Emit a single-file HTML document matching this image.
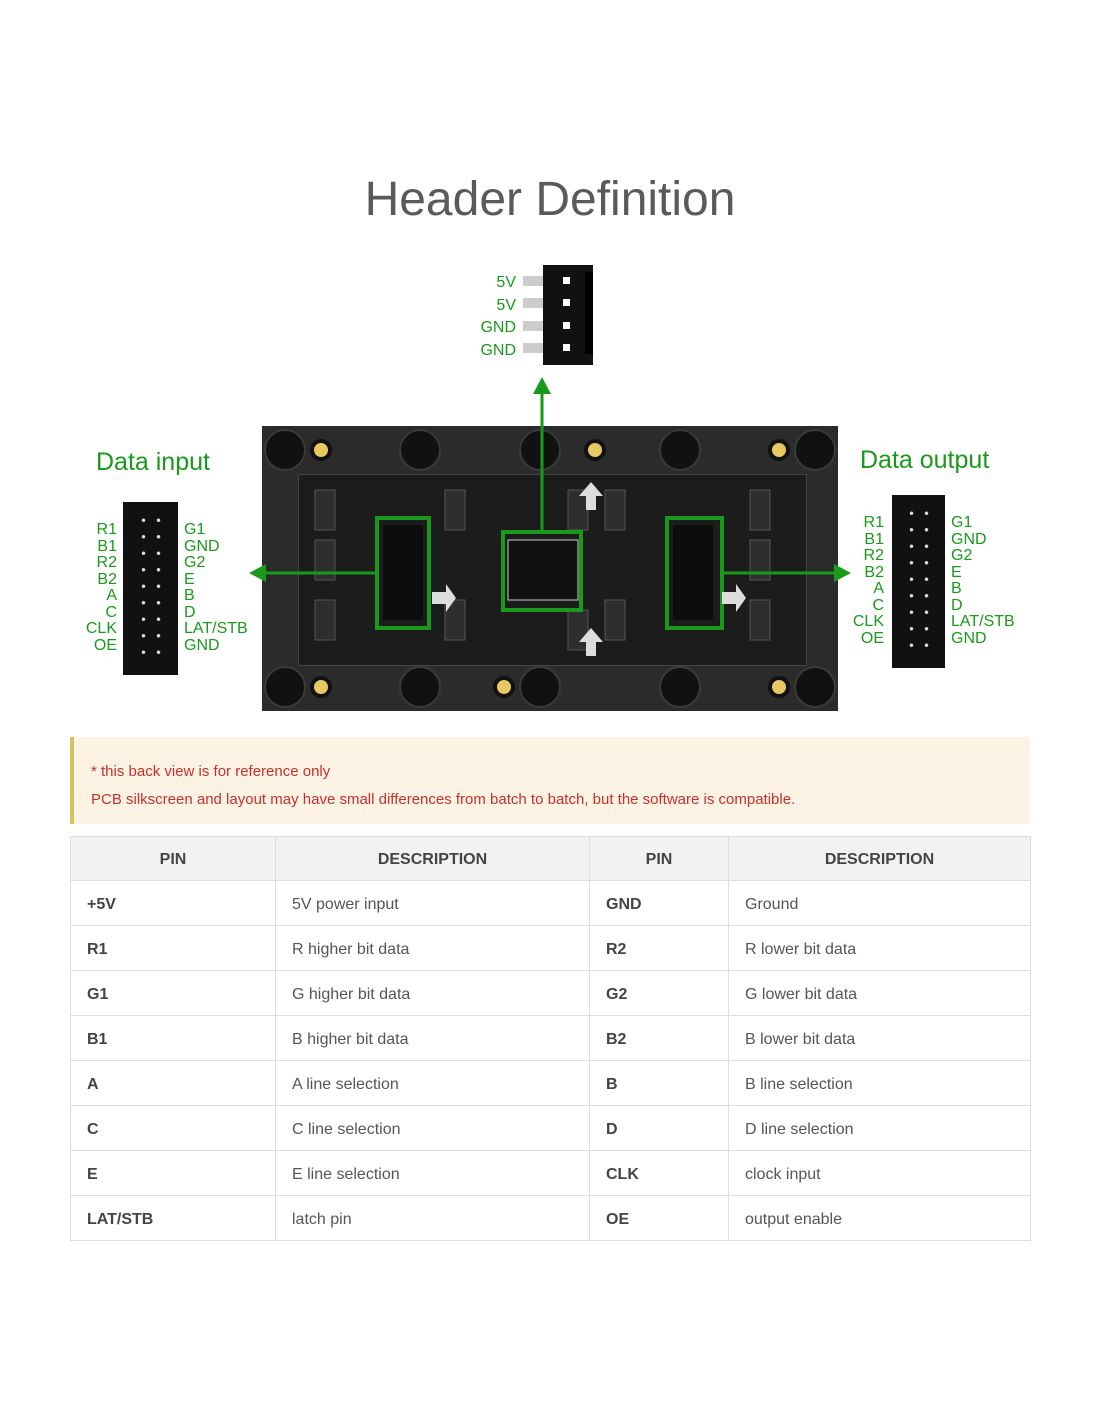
<!DOCTYPE html>
<html><head><meta charset="utf-8"><style>
body{margin:0;width:1100px;height:1422px;background:#fff;position:relative;font-family:"Liberation Sans",sans-serif;overflow:hidden}
.a{position:absolute}
.g{color:#1a9a1a;font-size:16px;line-height:16.5px}
.r{text-align:right}
table{position:absolute;left:70px;top:836px;width:961px;border-collapse:collapse;font-size:16px;color:#555}
td,th{border:1px solid #ddd;height:45px;padding:3px 16px 0;text-align:left;box-sizing:border-box}
th{background:#f2f2f2;text-align:center;font-weight:bold;color:#444;height:44px}
td.b{font-weight:bold;color:#444}
</style></head><body>
<div class="a" style="left:0;width:1100px;top:172px;text-align:center;font-size:48px;color:#5a5a5a">Header Definition</div>

<!-- power connector -->
<div class="a g r" style="left:460px;width:56px;top:272px;line-height:22.5px">5V<br>5V<br>GND<br>GND</div>
<div class="a" style="left:523px;top:276px;width:22px;height:10px;background:#ccc"></div>
<div class="a" style="left:523px;top:298px;width:22px;height:10px;background:#ccc"></div>
<div class="a" style="left:523px;top:321px;width:22px;height:10px;background:#ccc"></div>
<div class="a" style="left:523px;top:343px;width:22px;height:10px;background:#ccc"></div>
<div class="a" style="left:543px;top:265px;width:50px;height:100px;background:#111"></div>
<div class="a" style="left:585px;top:272px;width:8px;height:82px;background:#000"></div>
<div class="a" style="left:563px;top:277px;width:7px;height:7px;background:#fff"></div>
<div class="a" style="left:563px;top:299px;width:7px;height:7px;background:#fff"></div>
<div class="a" style="left:563px;top:322px;width:7px;height:7px;background:#fff"></div>
<div class="a" style="left:563px;top:344px;width:7px;height:7px;background:#fff"></div>

<!-- PCB -->
<div class="a" style="left:262px;top:426px;width:576px;height:285px;background:#2b2b2b"></div>
<div class="a" style="left:298px;top:474px;width:507px;height:190px;background:#1c1c1c;border:1px solid #444"></div>
<svg class="a" style="left:0;top:0" width="1100" height="1422">
<g fill="#111" stroke="#3a3a3a" stroke-width="2">
<circle cx="285" cy="450" r="20"/><circle cx="420" cy="450" r="20"/><circle cx="540" cy="450" r="20"/><circle cx="680" cy="450" r="20"/><circle cx="815" cy="450" r="20"/>
<circle cx="285" cy="687" r="20"/><circle cx="420" cy="687" r="20"/><circle cx="540" cy="687" r="20"/><circle cx="680" cy="687" r="20"/><circle cx="815" cy="687" r="20"/>
</g>
<g fill="#e8c860" stroke="#111" stroke-width="4">
<circle cx="321" cy="450" r="9"/><circle cx="595" cy="450" r="9"/><circle cx="779" cy="450" r="9"/>
<circle cx="321" cy="687" r="9"/><circle cx="504" cy="687" r="9"/><circle cx="779" cy="687" r="9"/>
</g>
<g fill="#2e2e2e" stroke="#555">
<rect x="315" y="490" width="20" height="40"/><rect x="315" y="540" width="20" height="40"/><rect x="315" y="600" width="20" height="40"/>
<rect x="445" y="490" width="20" height="40"/><rect x="445" y="600" width="20" height="40"/>
<rect x="568" y="490" width="20" height="40"/><rect x="568" y="610" width="20" height="40"/>
<rect x="605" y="490" width="20" height="40"/><rect x="605" y="600" width="20" height="40"/>
<rect x="750" y="490" width="20" height="40"/><rect x="750" y="540" width="20" height="40"/><rect x="750" y="600" width="20" height="40"/>
</g>
<rect x="383" y="525" width="40" height="95" fill="#0d0d0d"/>
<rect x="673" y="525" width="40" height="95" fill="#0d0d0d"/>
<rect x="508" y="540" width="70" height="60" fill="#111" stroke="#ccc"/>
<g fill="none" stroke="#1a9a1a" stroke-width="4">
<rect x="377" y="518" width="52" height="110"/>
<rect x="667" y="518" width="55" height="110"/>
<rect x="503" y="532" width="78" height="78"/>
</g>
<g fill="#ddd"><path d="M432 592h14v-8l10 14-10 14v-8h-14z"/><path d="M722 592h14v-8l10 14-10 14v-8h-14z"/>
<path d="M586 510v-14h-7l12-14 12 14h-7v14z"/><path d="M586 656v-14h-7l12-14 12 14h-7v14z"/></g>
<g stroke="#1a9a1a" stroke-width="3" fill="#1a9a1a">
<line x1="542" y1="532" x2="542" y2="392"/><path d="M533 394l9-17 9 17z" stroke="none"/>
<line x1="377" y1="573" x2="264" y2="573"/><path d="M266 564l-17 9 17 9z" stroke="none"/>
<line x1="722" y1="573" x2="836" y2="573"/><path d="M834 564l17 9-17 9z" stroke="none"/>
</g>
</svg>

<!-- Data input -->
<div class="a" style="left:96px;top:448px;font-size:25px;color:#1a9a1a">Data input</div>
<div class="a g r" style="left:60px;width:57px;top:522px">R1<br>B1<br>R2<br>B2<br>A<br>C<br>CLK<br>OE</div>
<div class="a" style="left:123px;top:502px;width:55px;height:173px;background:#111"></div>
<div class="a" style="left:136px;top:512px;width:30px;height:152px;background:radial-gradient(circle,#ddd 1.5px,transparent 2px) 0 0/15px 16.5px"></div>
<div class="a g" style="left:184px;top:522px">G1<br>GND<br>G2<br>E<br>B<br>D<br>LAT/STB<br>GND</div>

<!-- Data output -->
<div class="a" style="left:860px;top:446px;font-size:25px;color:#1a9a1a">Data output</div>
<div class="a g r" style="left:820px;width:64px;top:515px">R1<br>B1<br>R2<br>B2<br>A<br>C<br>CLK<br>OE</div>
<div class="a" style="left:892px;top:495px;width:53px;height:173px;background:#111"></div>
<div class="a" style="left:904px;top:505px;width:30px;height:152px;background:radial-gradient(circle,#ddd 1.5px,transparent 2px) 0 0/15px 16.5px"></div>
<div class="a g" style="left:951px;top:515px">G1<br>GND<br>G2<br>E<br>B<br>D<br>LAT/STB<br>GND</div>

<!-- note -->
<div class="a" style="left:70px;top:737px;width:960px;height:87px;background:#fdf3e4;border-left:4px solid #d2c35a;box-sizing:border-box"></div>
<div class="a" style="left:91px;top:758px;font-size:15px;color:#c8302a;line-height:28px">* this back view is for reference only<br>PCB silkscreen and layout may have small differences from batch to batch, but the software is compatible.</div>

<table>
<tr><th style="width:205px">PIN</th><th style="width:314px">DESCRIPTION</th><th style="width:139px">PIN</th><th>DESCRIPTION</th></tr>
<tr><td class="b">+5V</td><td>5V power input</td><td class="b">GND</td><td>Ground</td></tr>
<tr><td class="b">R1</td><td>R higher bit data</td><td class="b">R2</td><td>R lower bit data</td></tr>
<tr><td class="b">G1</td><td>G higher bit data</td><td class="b">G2</td><td>G lower bit data</td></tr>
<tr><td class="b">B1</td><td>B higher bit data</td><td class="b">B2</td><td>B lower bit data</td></tr>
<tr><td class="b">A</td><td>A line selection</td><td class="b">B</td><td>B line selection</td></tr>
<tr><td class="b">C</td><td>C line selection</td><td class="b">D</td><td>D line selection</td></tr>
<tr><td class="b">E</td><td>E line selection</td><td class="b">CLK</td><td>clock input</td></tr>
<tr><td class="b">LAT/STB</td><td>latch pin</td><td class="b">OE</td><td>output enable</td></tr>
</table>
</body></html>
